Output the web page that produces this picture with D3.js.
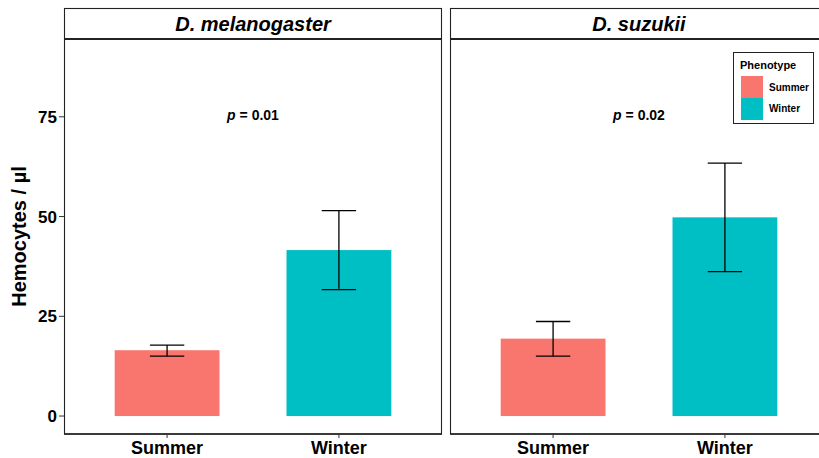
<!DOCTYPE html>
<html>
<head>
<meta charset="utf-8">
<script src="https://cdn.jsdelivr.net/npm/d3@7"></script>
<style>
  body { margin: 0; background: #fff; }
  svg { display: block; font-family: "Liberation Sans", Arial, sans-serif; }
</style>
</head>
<body>
<svg id="chart" width="819" height="458"></svg>
<script>
// Hemocyte counts by seasonal phenotype, per species
const species = ["D. melanogaster", "D. suzukii"];
const phenotypes = ["Summer", "Winter"];
const meanValues = [[16.5, 41.6], [19.4, 49.8]];
const errLow = [[15.0, 31.7], [15.0, 36.2]];
const errHigh = [[17.8, 51.5], [23.7, 63.4]];
const pLabels = ["0.01", "0.02"];
const yTicks = [0, 25, 50, 75];
const colors = ["#F8766D", "#00BFC4"];

const svg = d3.select("#chart");
const panelW = 378, panelGap = 8;
const panelLeft = 64, stripTop = 8, stripBottom = 39, panelBottom = 434;

const y = d3.scaleLinear().domain([-4.5, 94.5]).range([panelBottom, stripBottom]);

// discrete x: categories at 1,2 with 0.6 expansion on each side
const x = d3.scaleLinear().domain([0.4, 2.6]).range([0, panelW]);
const barHalf = 0.305, capHalf = 0.1;

species.forEach((sp, i) => {
  const g = svg.append("g").attr("transform", `translate(${panelLeft + i * (panelW + panelGap)},0)`);

  // bars
  phenotypes.forEach((ph, j) => {
    g.append("rect")
      .attr("x", x(j + 1 - barHalf))
      .attr("width", x(j + 1 + barHalf) - x(j + 1 - barHalf))
      .attr("y", y(meanValues[i][j]))
      .attr("height", y(0) - y(meanValues[i][j]))
      .attr("fill", colors[j]);
  });

  // error bars
  phenotypes.forEach((ph, j) => {
    const cx = x(j + 1);
    const x0 = x(j + 1 - capHalf), x1 = x(j + 1 + capHalf);
    const eg = g.append("g").attr("stroke", "#000").attr("stroke-width", 1.3).attr("fill", "none");
    eg.append("line").attr("x1", cx).attr("x2", cx).attr("y1", y(errLow[i][j])).attr("y2", y(errHigh[i][j]));
    eg.append("line").attr("x1", x0).attr("x2", x1).attr("y1", y(errLow[i][j])).attr("y2", y(errLow[i][j]));
    eg.append("line").attr("x1", x0).attr("x2", x1).attr("y1", y(errHigh[i][j])).attr("y2", y(errHigh[i][j]));
  });

  // p-value annotation
  const pt = g.append("text")
    .attr("x", x(1.5)).attr("y", y(75) + 3.5)
    .attr("text-anchor", "middle")
    .attr("font-size", 14).attr("font-weight", "bold");
  pt.append("tspan").attr("font-style", "italic").text("p");
  pt.append("tspan").text(" = " + pLabels[i]);

  // panel border
  g.append("rect")
    .attr("x", 0.5).attr("y", stripTop + 0.5)
    .attr("width", panelW - 1).attr("height", panelBottom - stripTop - 0.5)
    .attr("fill", "none").attr("stroke", "#222").attr("stroke-width", 1.1);

  // strip
  g.append("line")
    .attr("x1", 0).attr("x2", panelW)
    .attr("y1", stripBottom).attr("y2", stripBottom)
    .attr("stroke", "#222").attr("stroke-width", 2);
  g.append("text")
    .attr("x", panelW / 2).attr("y", 31)
    .attr("text-anchor", "middle")
    .attr("font-size", 20).attr("font-weight", "bold").attr("font-style", "italic")
    .text(sp);

  // x axis
  const xa = g.append("g").attr("transform", `translate(0,${panelBottom})`);
  xa.append("line").attr("x1", 0).attr("x2", panelW).attr("y1", 0).attr("y2", 0)
    .attr("stroke", "#222").attr("stroke-width", 1.6);
  phenotypes.forEach((ph, j) => {
    xa.append("line").attr("x1", x(j + 1)).attr("x2", x(j + 1)).attr("y1", 0).attr("y2", 4)
      .attr("stroke", "#333").attr("stroke-width", 1);
    xa.append("text").attr("x", x(j + 1)).attr("y", 20)
      .attr("text-anchor", "middle").attr("font-size", 18).attr("font-weight", "bold")
      .text(ph);
  });
});

// y axis
const ya = svg.append("g").attr("transform", `translate(${panelLeft},0)`);
yTicks.forEach(t => {
  ya.append("line").attr("x1", -5).attr("x2", 0).attr("y1", y(t)).attr("y2", y(t))
    .attr("stroke", "#333").attr("stroke-width", 1);
  ya.append("text").attr("x", -7).attr("y", y(t) + 6)
    .attr("text-anchor", "end").attr("font-size", 17).attr("font-weight", "bold")
    .text(t);
});
svg.append("text")
  .attr("transform", `translate(26,${(stripBottom + panelBottom) / 2}) rotate(-90)`)
  .attr("text-anchor", "middle").attr("font-size", 20).attr("font-weight", "bold")
  .text("Hemocytes / µl");

// legend
const lg = svg.append("g").attr("transform", "translate(733,52)");
lg.append("rect").attr("x", 0.5).attr("y", 0.5).attr("width", 80).attr("height", 71)
  .attr("fill", "#fff").attr("stroke", "#222").attr("stroke-width", 1);
lg.append("text").attr("x", 7).attr("y", 16.5)
  .attr("font-size", 11).attr("font-weight", "bold").text("Phenotype");
phenotypes.forEach((ph, j) => {
  lg.append("rect").attr("x", 8).attr("y", 24 + j * 22).attr("width", 22).attr("height", 22)
    .attr("fill", colors[j]);
  lg.append("text").attr("x", 36).attr("y", 39 + j * 21)
    .attr("font-size", 10).attr("font-weight", "bold").text(ph);
});
</script>
</body>
</html>
